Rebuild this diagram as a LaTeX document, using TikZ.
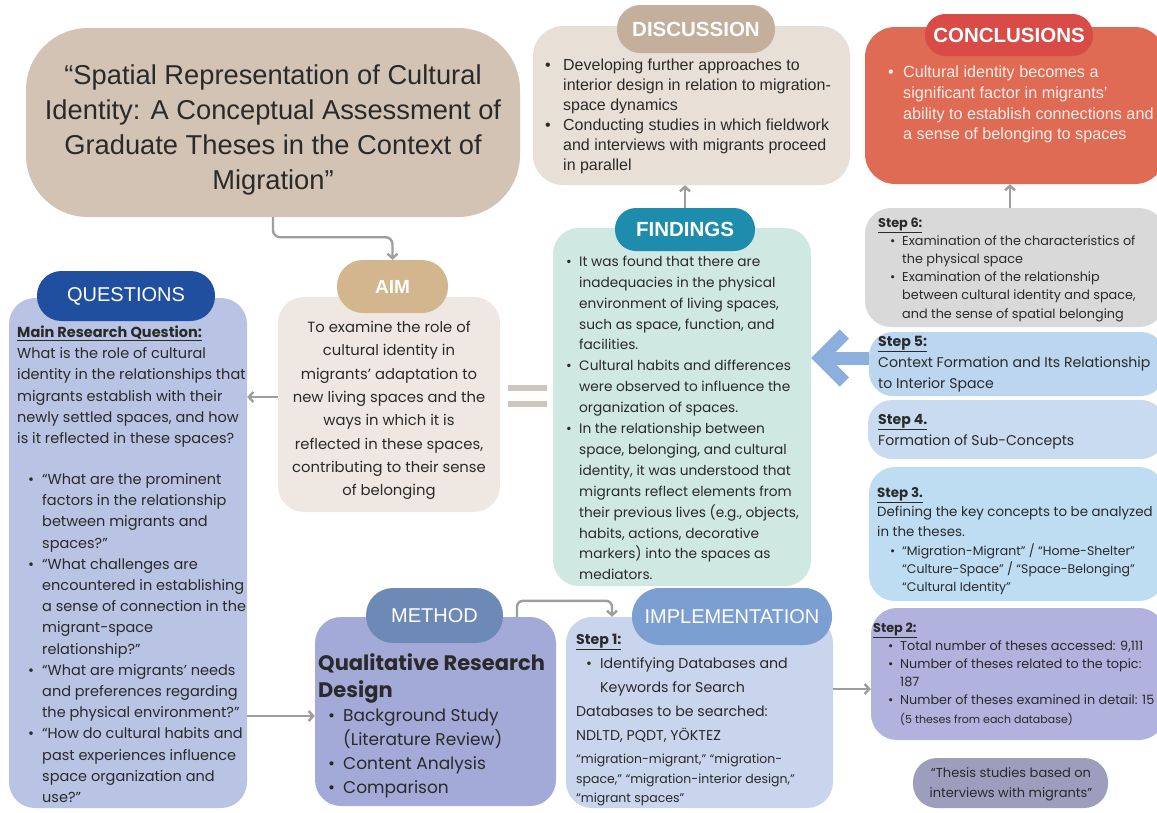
\documentclass[tikz,border=0pt]{standalone}
\usepackage{fontspec}
\setmainfont{Liberation Sans}
\newfontfamily\hfont{Liberation Sans}
\newfontfamily\jost{Poppins}
\usetikzlibrary{arrows.meta}
\definecolor{ink}{HTML}{2A2A2A}
\definecolor{titlebg}{HTML}{D3C3B4}
\definecolor{discbg}{HTML}{E8DFD6}
\definecolor{discpill}{HTML}{C3AF9C}
\definecolor{concbg}{HTML}{E06B55}
\definecolor{concpill}{HTML}{D94B47}
\definecolor{conctext}{HTML}{FBEDE8}
\definecolor{findbg}{HTML}{CFE8E1}
\definecolor{findpill}{HTML}{1D8CAD}
\definecolor{aimbg}{HTML}{EFE8E2}
\definecolor{aimpill}{HTML}{D4B68E}
\definecolor{qbg}{HTML}{B9C3E3}
\definecolor{qpill}{HTML}{1F4F9E}
\definecolor{stepsix}{HTML}{D9D9D9}
\definecolor{stepfive}{HTML}{BCD6EF}
\definecolor{stepfour}{HTML}{C9DBF1}
\definecolor{stepthree}{HTML}{BEDDF3}
\definecolor{steptwo}{HTML}{B1B2DD}
\definecolor{thesisbg}{HTML}{9D9EBE}
\definecolor{methbg}{HTML}{A4AAD8}
\definecolor{methpill}{HTML}{6D89B5}
\definecolor{implbg}{HTML}{C9D5ED}
\definecolor{implpill}{HTML}{7C9FD2}
\definecolor{conngray}{HTML}{9E9E9E}
\definecolor{bigblue}{HTML}{8DAFDE}
\definecolor{eqcol}{HTML}{D0C5BA}
\newcommand\bu[1]{\makebox[#1][l]{•}}
\newcommand\ind[1]{\hspace*{#1}}
\begin{document}
\begin{tikzpicture}[x=1pt,y=-1pt,
  body/.style={rectangle, inner sep=0pt, draw=none, rounded corners=#1},
  body/.default=26pt,
  pill/.style={rectangle, inner sep=0pt, draw=none, rounded corners=#1, text=white},
  txt/.style={inner sep=0pt, anchor=north west, align=left, text=ink},
  ctxt/.style={inner sep=0pt, anchor=north, align=center, text=ink},
  conn/.style={draw=conngray, line width=2.4pt, -{Straight Barb[length=4.5pt,width=10pt]}},
  bigarrow/.style={draw=bigblue, line width=13pt, -{Straight Barb[length=24pt,width=48pt]}},
  headb/.style={font=\hfont\bfseries\fontsize{20.5}{21}\selectfont},
  headr/.style={font=\hfont\fontsize{20}{21}\selectfont}
]
\useasboundingbox (0,0) rectangle (1157,812);
\fill[white] (0,0) rectangle (1157,812);
\clip (0,0) rectangle (1157,812);

% ---------- bodies ----------
\node[body=62pt, fill=titlebg, minimum width=494pt, minimum height=189pt] (title) at (273,122.5) {};
\node[body=30pt, fill=discbg, minimum width=317pt, minimum height=159pt] (disc) at (691.5,105.5) {};
\node[body=30pt, fill=concbg, minimum width=300pt, minimum height=157pt] (conc) at (1015,105.5) {};
\node[body=26pt, fill=findbg, minimum width=258pt, minimum height=358pt] (find) at (682,407) {};
\node[body=26pt, fill=aimbg, minimum width=222pt, minimum height=215pt] (aim) at (389,404.5) {};
\node[body=26pt, fill=qbg, minimum width=238pt, minimum height=510pt] (q) at (128,553) {};
\node[body=26pt, fill=stepsix, minimum width=300pt, minimum height=119pt] (step6) at (1015,267.5) {};
\node[body=24pt, fill=stepfive, minimum width=296pt, minimum height=64pt] (step5) at (1017,364) {};
\node[body=24pt, fill=stepfour, minimum width=297pt, minimum height=59pt] (step4) at (1016.5,429.5) {};
\node[body=26pt, fill=stepthree, minimum width=296pt, minimum height=134pt] (step3) at (1017,534) {};
\node[body=26pt, fill=steptwo, minimum width=294pt, minimum height=132pt] (step2) at (1018,674) {};
\node[pill=24pt, fill=thesisbg, minimum width=195pt, minimum height=50pt] (thesis) at (1010.5,783) {};
\node[body=26pt, fill=methbg, minimum width=241pt, minimum height=189pt] (meth) at (435.5,711.5) {};
\node[body=26pt, fill=implbg, minimum width=267pt, minimum height=191pt] (impl) at (699.5,712.5) {};

% ---------- pills ----------
\node[pill=23.5pt, fill=discpill, minimum width=158pt, minimum height=48pt, headb] (discpill) at (696,29) {DISCUSSION};
\node[pill=20.5pt, fill=concpill, minimum width=168pt, minimum height=42pt, headb] (concpill) at (1009,35) {CONCLUSIONS};
\node[pill=21pt, fill=findpill, minimum width=140pt, minimum height=43pt, headb] (findpill) at (685,229.5) {FINDINGS};
\node[pill=26pt, fill=aimpill, minimum width=111pt, minimum height=53pt, font=\hfont\bfseries\fontsize{19}{20}\selectfont] (aimpill) at (392.5,286.5) {AIM};
\node[pill=24.5pt, fill=qpill, minimum width=178pt, minimum height=50pt, headr] (qpill) at (126,296) {QUESTIONS};
\node[pill=27pt, fill=methpill, minimum width=137pt, minimum height=55pt, headr] (methpill) at (434.5,615.5) {METHOD};
\node[pill=28pt, fill=implpill, minimum width=200pt, minimum height=57pt, headr] (implpill) at (732,616.5) {IMPLEMENTATION};

% ---------- texts ----------
\node[ctxt, font=\hfont\fontsize{27.3}{35}\selectfont] (titletxt) at (273,59.3) {\strut“Spatial Representation of Cultural\\Identity: A Conceptual Assessment of\\Graduate Theses in the Context of\\Migration”};

\node[txt, font=\hfont\fontsize{16}{20}\selectfont] (disctxt) at (545,55.8) {\strut\bu{18pt}Developing further approaches to\\
\ind{18pt}interior design in relation to migration-\\
\ind{18pt}space dynamics\\
\bu{18pt}Conducting studies in which fieldwork\\
\ind{18pt}and interviews with migrants proceed\\
\ind{18pt}in parallel};

\node[txt, text=conctext, font=\hfont\fontsize{16.2}{20.7}\selectfont] (conctxt) at (888,63.2) {\strut\bu{15pt}Cultural identity becomes a\\
\ind{15pt}significant factor in migrants’\\
\ind{15pt}ability to establish connections and\\
\ind{15pt}a sense of belonging to spaces};

\node[txt, font=\jost\fontsize{13.7}{20.9}\selectfont] (findtxt) at (566,251.5) {\strut\bu{13pt}It was found that there are\\
\ind{13pt}inadequacies in the physical\\
\ind{13pt}environment of living spaces,\\
\ind{13pt}such as space, function, and\\
\ind{13pt}facilities.\\
\bu{13pt}Cultural habits and differences\\
\ind{13pt}were observed to influence the\\
\ind{13pt}organization of spaces.\\
\bu{13pt}In the relationship between\\
\ind{13pt}space, belonging, and cultural\\
\ind{13pt}identity, it was understood that\\
\ind{13pt}migrants reflect elements from\\
\ind{13pt}their previous lives (e.g., objects,\\
\ind{13pt}habits, actions, decorative\\
\ind{13pt}markers) into the spaces as\\
\ind{13pt}mediators.};

\node[ctxt, font=\jost\fontsize{14.8}{23.3}\selectfont] (aimtxt) at (389,316.1) {\strut To examine the role of\\cultural identity in\\migrants’ adaptation to\\new living spaces and the\\ways in which it is\\reflected in these spaces,\\contributing to their sense\\of belonging};

\node[txt, font=\jost\fontsize{14.5}{21.2}\selectfont] (qtxt) at (17,322.5) {\strut\textbf{\underline{Main Research Question:}}\\
What is the role of cultural\\
identity in the relationships that\\
migrants establish with their\\
newly settled spaces, and how\\
is it reflected in these spaces?\\[19.8pt]
\ind{11pt}\bu{14pt}“What are the prominent\\
\ind{25pt}factors in the relationship\\
\ind{25pt}between migrants and\\
\ind{25pt}spaces?”\\
\ind{11pt}\bu{14pt}“What challenges are\\
\ind{25pt}encountered in establishing\\
\ind{25pt}a sense of connection in the\\
\ind{25pt}migrant-space\\
\ind{25pt}relationship?”\\
\ind{11pt}\bu{14pt}“What are migrants’ needs\\
\ind{25pt}and preferences regarding\\
\ind{25pt}the physical environment?”\\
\ind{11pt}\bu{14pt}“How do cultural habits and\\
\ind{25pt}past experiences influence\\
\ind{25pt}space organization and\\
\ind{25pt}use?”};

\node[txt, font=\jost\fontsize{12.8}{18.2}\selectfont] (step6txt) at (878,214.1) {\strut\textbf{\underline{Step 6:}}\\
\ind{12pt}\bu{12pt}Examination of the characteristics of\\
\ind{24pt}the physical space\\
\ind{12pt}\bu{12pt}Examination of the relationship\\
\ind{24pt}between cultural identity and space,\\
\ind{24pt}and the sense of spatial belonging};

\node[txt, font=\jost\fontsize{14.1}{21}\selectfont] (step5txt) at (878,331.6) {\strut\textbf{\underline{Step 5:}}\\Context Formation and Its Relationship\\to Interior Space};

\node[txt, font=\jost\fontsize{14.1}{21}\selectfont] (step4txt) at (878,409.6) {\strut\textbf{\underline{Step 4.}}\\Formation of Sub-Concepts};

\node[txt, font=\jost\fontsize{13.4}{19.5}\selectfont] (step3txt) at (877,483.6) {\strut\textbf{\underline{Step 3.}}\\Defining the key concepts to be analyzed\\in the theses.};
\node[txt, font=\jost\fontsize{12.5}{17.8}\selectfont] (step3list) at (890,543.3) {\strut\bu{12pt}“Migration-Migrant” / “Home-Shelter”\\
\ind{12pt}“Culture-Space” / “Space-Belonging”\\
\ind{12pt}“Cultural Identity”};

\node[txt, font=\jost\fontsize{12.8}{18.2}\selectfont] (step2txt) at (873,619.1) {\strut\textbf{\underline{Step 2:}}\\
\ind{15pt}\bu{12pt}Total number of theses accessed: 9,111\\
\ind{15pt}\bu{12pt}Number of theses related to the topic:\\
\ind{27pt}187\\
\ind{15pt}\bu{12pt}Number of theses examined in detail: 15\\
\ind{27pt}{\fontsize{11}{18.2}\selectfont(5 theses from each database)}};

\node[ctxt, font=\jost\fontsize{13}{20}\selectfont] (thesistxt) at (1011,763) {\strut“Thesis studies based on\\interviews with migrants”};

\node[txt, font=\jost\bfseries\fontsize{21}{27}\selectfont] (methtitle) at (318,651.4) {\strut Qualitative Research\\Design};
\node[txt, font=\jost\fontsize{17}{24}\selectfont] (methlist) at (328,704.3) {\strut\bu{15pt}Background Study\\
\ind{15pt}(Literature Review)\\
\bu{15pt}Content Analysis\\
\bu{15pt}Comparison};

\node[txt, font=\jost\fontsize{14.2}{24}\selectfont] (impltxt) at (576,627.5) {\strut\textbf{\underline{Step 1:}}\\
\ind{10pt}\bu{14pt}Identifying Databases and\\
\ind{24pt}Keywords for Search\\
Databases to be searched:\\
NDLTD, PQDT, YÖKTEZ};
\node[txt, font=\jost\fontsize{12.5}{19.5}\selectfont] (impllist) at (576,750.1) {\strut“migration-migrant,” “migration-\\space,” “migration-interior design,”\\“migrant spaces”};

% ---------- equals sign ----------
\fill[eqcol] (508,385) rectangle (547,391);
\fill[eqcol] (508,401) rectangle (547,407);

% ---------- connectors ----------
\draw[conn, rounded corners=7pt] (title.south) -- ++(0,20) -| (aimpill.north);
\draw[conn] ([yshift=7.5pt]aim.west) -- ([yshift=156pt]q.east);
\draw[conn] ([yshift=-163pt]q.east) -- ([yshift=-4.5pt]meth.west);
\draw[conn, rounded corners=6pt] ([xshift=81.5pt]meth.north) -- ++(0,-16) -| ([xshift=-87.5pt]impl.north);
\draw[conn] ([yshift=23.5pt]impl.east) -- ([yshift=-15pt]step2.west);
\draw[conn] (findpill.north) -- ([xshift=-6.5pt]disc.south);
\draw[conn] ([xshift=-5pt]step6.north) -- ([xshift=-5pt]conc.south);
\draw[bigarrow] ([yshift=6pt]step5.west) -- ([yshift=49pt]find.east);
\end{tikzpicture}
\end{document}
